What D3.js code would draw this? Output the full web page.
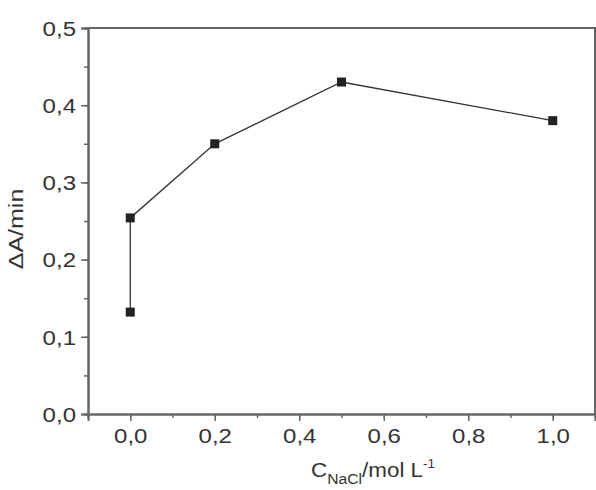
<!DOCTYPE html>
<html>
<head>
<meta charset="utf-8">
<script src="https://cdn.jsdelivr.net/npm/d3@7"></script>
<style>
  body { margin: 0; background: #fff; }
  text { font-family: "Liberation Sans", Arial, sans-serif; fill: #333; }
</style>
</head>
<body>
<svg width="596" height="490"></svg>
<script>
const concentrations = [0.0, 0.0, 0.2, 0.5, 1.0]
const rates = [0.132, 0.254, 0.350, 0.430, 0.380]
const xTicks = [0.0, 0.2, 0.4, 0.6, 0.8, 1.0]
const yTicks = [0.0, 0.1, 0.2, 0.3, 0.4, 0.5]

const svg = d3.select("svg")
const width = +svg.attr("width")
const height = +svg.attr("height")

const margin = {top: 28, right: 1, bottom: 76, left: 88}
const innerWidth = width - margin.left - margin.right
const innerHeight = height - margin.top - margin.bottom
const axisColor = "#666"
const fmt = d => d3.format(".1f")(d).replace(".", ",")

// the original lettering is a little wider than Arial
const widen = (sel, k) => sel.each(function () {
  const len = this.getComputedTextLength()
  d3.select(this).attr("textLength", len * k).attr("lengthAdjust", "spacingAndGlyphs")
})

const xScale = d3.scaleLinear().domain([-0.1, 1.1]).range([0, innerWidth])
const yScale = d3.scaleLinear().domain([0, 0.5]).range([innerHeight, 0])

const g = svg.append("g")
  .attr("transform", `translate(${margin.left}, ${margin.top})`)

// minor ticks
const xMinor = d3.axisBottom(xScale).tickValues(d3.range(-0.1, 1.11, 0.1).map(d => +d.toFixed(2))).tickSize(4)
const yMinor = d3.axisLeft(yScale).tickValues(d3.range(0, 0.51, 0.05).map(d => +d.toFixed(2))).tickSize(4)

g.append("g").attr("transform", `translate(0, ${innerHeight})`).call(xMinor).selectAll("text").remove()
g.append("g").call(yMinor).selectAll("text").remove()

const xAxisG = g.append("g")
  .attr("transform", `translate(0, ${innerHeight})`)
  .call(d3.axisBottom(xScale).tickValues(xTicks).tickFormat(fmt).tickSize(7).tickPadding(6))
const yAxisG = g.append("g")
  .call(d3.axisLeft(yScale).tickValues(yTicks).tickFormat(fmt).tickSize(7).tickPadding(5))

g.selectAll(".domain").attr("stroke", axisColor).attr("stroke-width", 2)
g.selectAll(".tick line").attr("stroke", axisColor).attr("stroke-width", 1.5)
g.selectAll(".tick text")
  .attr("font-size", 20)
  .attr("font-family", "Liberation Sans, Arial, sans-serif")
  .attr("fill", "#333")
yAxisG.selectAll(".tick text").attr("dy", "0.36em")
xAxisG.selectAll(".tick text").attr("dy", "0.8em")
widen(g.selectAll(".tick text"), 1.2)

// frame (top and right)
g.append("path")
  .attr("d", `M0,0H${innerWidth}V${innerHeight}`)
  .attr("fill", "none")
  .attr("stroke", axisColor)
  .attr("stroke-width", 2)

const points = concentrations.map((c, i) => ({x: c, y: rates[i]}))

g.append("path")
  .datum(points)
  .attr("fill", "none")
  .attr("stroke", "#333")
  .attr("stroke-width", 1.3)
  .attr("d", d3.line().x(d => xScale(d.x)).y(d => yScale(d.y)))

const s = 9
g.selectAll("rect.pt").data(points)
  .enter().append("rect")
  .attr("class", "pt")
  .attr("x", d => xScale(d.x) - s / 2)
  .attr("y", d => yScale(d.y) - s / 2)
  .attr("width", s)
  .attr("height", s)
  .attr("fill", "#222")

// axis labels
const yl = svg.append("text")
  .attr("transform", `translate(23, 229) rotate(-90)`)
  .attr("text-anchor", "middle")
  .attr("font-size", 20)
  .text("ΔA/min")
widen(yl, 1.25)

const xl = svg.append("text")
  .attr("x", 311)
  .attr("y", 477)
  .attr("font-size", 20)
xl.append("tspan").text("C")
xl.append("tspan").attr("font-size", 14).attr("dy", 7).text("NaCl")
xl.append("tspan").attr("dy", -7).text("/mol L")
xl.append("tspan").attr("font-size", 12).attr("dy", -9).text("-1")
widen(xl, 1.12)
</script>
</body>
</html>
